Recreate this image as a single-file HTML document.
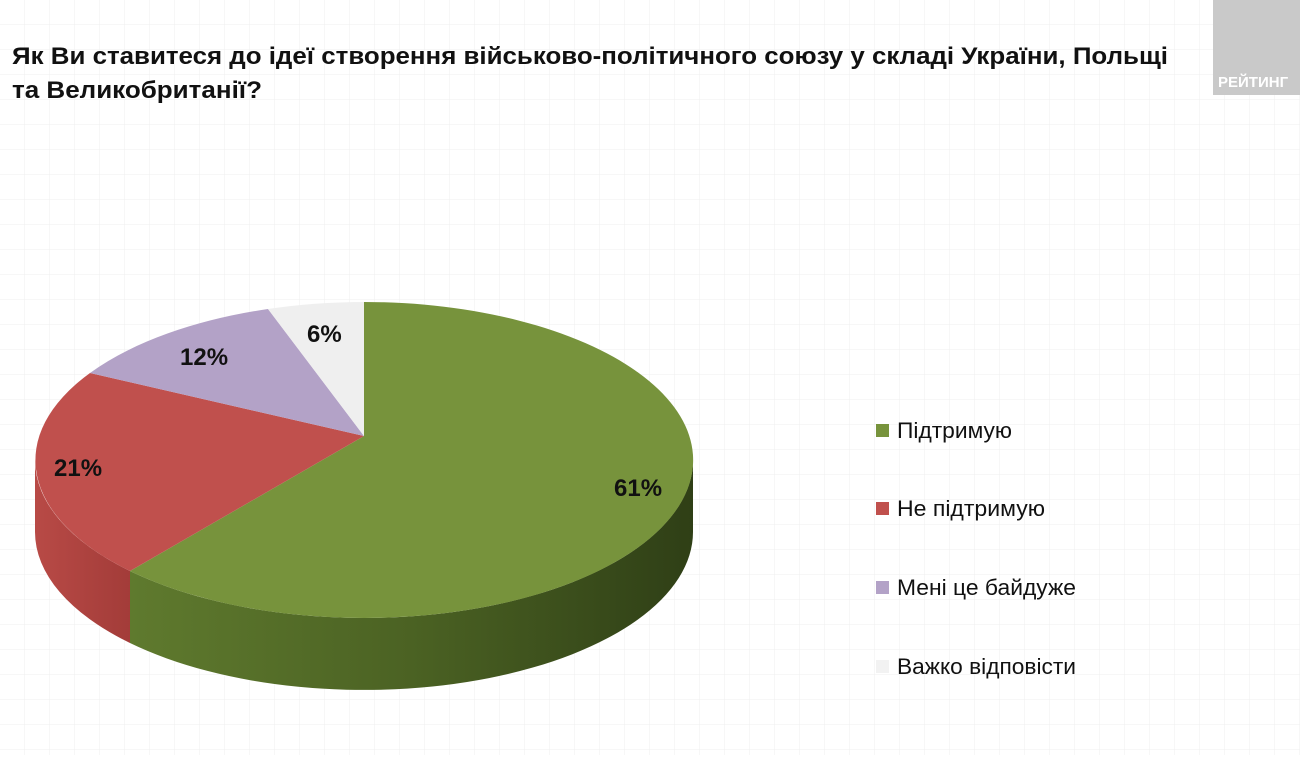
<!DOCTYPE html>
<html><head><meta charset="utf-8"><style>
body{margin:0;width:1300px;height:755px;overflow:hidden;background:#fff;font-family:"Liberation Sans",sans-serif;}
</style></head><body>
<svg width="1300" height="755" xmlns="http://www.w3.org/2000/svg">
<defs>
<pattern id="g" width="25" height="25" patternUnits="userSpaceOnUse"><path d="M25 0V25M0 25H25" stroke="#efefef" stroke-width="1" fill="none"/></pattern>
<linearGradient id="gs" x1="130" y1="0" x2="693" y2="0" gradientUnits="userSpaceOnUse"><stop offset="0" stop-color="#5f7a2e"/><stop offset="0.5" stop-color="#4b6223"/><stop offset="1" stop-color="#2f3f16"/></linearGradient>
<linearGradient id="rs" x1="35" y1="0" x2="130" y2="0" gradientUnits="userSpaceOnUse"><stop offset="0" stop-color="#b84a46"/><stop offset="1" stop-color="#a33c39"/></linearGradient>
</defs>
<rect width="1300" height="755" fill="#fff"/>
<rect width="1300" height="755" fill="url(#g)"/>
<rect x="1213" y="0" width="87" height="95" fill="#c9c9c9"/>
<text x="1218" y="87" font-size="15" font-weight="bold" fill="#fff">РЕЙТИНГ</text>
<text x="12" y="64" font-size="24" font-weight="bold" fill="#111" textLength="1156" lengthAdjust="spacingAndGlyphs">Як Ви ставитеся до ідеї створення військово-політичного союзу у складі України, Польщі</text>
<text x="12" y="98" font-size="24" font-weight="bold" fill="#111" textLength="250" lengthAdjust="spacingAndGlyphs">та Великобританії?</text>
<path d="M130,571 A329,158 0 0 0 693,460 L693,532 A329,158 0 0 1 130,643 Z" fill="url(#gs)"/>
<path d="M35,460 A329,158 0 0 0 130,571 L130,643 A329,158 0 0 1 35,532 Z" fill="url(#rs)"/>
<path d="M364,436 L364,302 A329,158 0 1 1 130,571 Z" fill="#77933c"/>
<path d="M364,436 L130,571 A329,158 0 0 1 90,373 Z" fill="#c0504d"/>
<path d="M364,436 L90,373 A329,158 0 0 1 268,309 Z" fill="#b3a2c7"/>
<path d="M364,436 L268,309 A329,158 0 0 1 364,302 Z" fill="#efefef"/>
<g font-size="24" font-weight="bold" fill="#111">
<text x="614" y="496">61%</text>
<text x="54" y="476">21%</text>
<text x="180" y="365">12%</text>
<text x="307" y="342">6%</text>
</g>
<rect x="876" y="424" width="13" height="13" fill="#77933c"/>
<rect x="876" y="502" width="13" height="13" fill="#c0504d"/>
<rect x="876" y="581" width="13" height="13" fill="#b3a2c7"/>
<rect x="876" y="660" width="13" height="13" fill="#f2f2f2"/>
<g font-size="22" fill="#111">
<text x="897" y="438" textLength="115" lengthAdjust="spacingAndGlyphs">Підтримую</text>
<text x="897" y="516" textLength="148" lengthAdjust="spacingAndGlyphs">Не підтримую</text>
<text x="897" y="595" textLength="179" lengthAdjust="spacingAndGlyphs">Мені це байдуже</text>
<text x="897" y="674" textLength="179" lengthAdjust="spacingAndGlyphs">Важко відповісти</text>
</g>
</svg>
</body></html>
